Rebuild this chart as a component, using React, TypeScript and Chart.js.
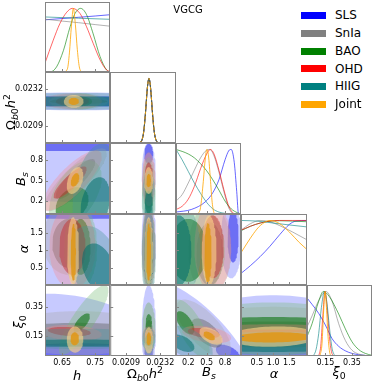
import React, { useEffect, useRef } from 'react';
import { Chart, registerables } from 'chart.js';

Chart.register(...registerables);
Chart.defaults.font.family = 'DejaVu Sans';

// ---------- series ----------
const SERIES = ['SLS', 'SnIa', 'BAO', 'OHD', 'HIIG', 'Joint'];
const LEGEND_COLORS = ['#0000ff', '#808080', '#008000', '#ff0000', '#008080', '#ffa500'];
const LINE_COLORS = ['rgba(0,0,255,0.6)', 'rgba(128,128,128,0.6)', 'rgba(0,128,0,0.6)', 'rgba(255,0,0,0.6)', 'rgba(0,128,128,0.6)', 'rgba(255,165,0,0.8)'];
const OUTER_FILL = ['rgba(70,80,255,0.3)', 'rgba(170,170,170,0.35)', 'rgba(120,190,120,0.35)', 'rgba(255,130,130,0.3)', 'rgba(70,150,150,0.35)', 'rgba(255,215,140,0.6)'];
const INNER_FILL = ['rgba(0,0,230,0.45)', 'rgba(100,100,100,0.45)', 'rgba(0,110,0,0.55)', 'rgba(200,40,40,0.45)', 'rgba(0,110,110,0.55)', 'rgba(225,150,20,0.85)'];

// ---------- parameters (h, Ωb0h², Bs, α, ξ0) ----------
const PARAM_MIN = [0.598, 0.01984, 0.0, 0.01, 0.012];
const PARAM_MAX = [0.795, 0.02426, 1.06, 2.04, 0.5];
const TICK_VALUES = [[0.65, 0.75], [0.0209, 0.0232], [0.2, 0.5, 0.8], [0.5, 1.0, 1.5], [0.15, 0.35]];
const X_TICK_LABELS = [['0.65', '0.75'], ['0.0209', '0.0232'], ['0.2', '0.5', '0.8'], ['0.5', '1.0', '1.5'], ['0.15', '0.35']];
const Y_TICK_LABELS = [[], ['0.0209', '0.0232'], ['0.2', '0.5', '0.8'], ['0.5', '1', '1.5'], ['0.15', '0.35']];

// ---------- 1D posteriors [x, density] per series: SLS, SnIa, BAO, OHD, HIIG, Joint ----------
const POST_H = [
  [[0.598, 0.82], [0.65, 0.84], [0.70, 0.86], [0.75, 0.88], [0.795, 0.9]],
  [[0.598, 0.83], [0.65, 0.8], [0.70, 0.775], [0.75, 0.745], [0.795, 0.72]],
  [[0.598, 0], [0.613, 0], [0.633, 0.08], [0.654, 0.34], [0.674, 0.71], [0.689, 0.92], [0.706, 1.0], [0.724, 0.9], [0.744, 0.6], [0.765, 0.24], [0.785, 0.03], [0.795, 0]],
  [[0.598, 0.14], [0.623, 0.5], [0.643, 0.76], [0.664, 0.94], [0.681, 1.0], [0.704, 0.92], [0.724, 0.71], [0.744, 0.45], [0.765, 0.19], [0.785, 0.03], [0.795, 0.01]],
  [[0.598, 0.865], [0.70, 0.845], [0.795, 0.828]],
  [[0.655, 0], [0.666, 0.05], [0.672, 0.3], [0.678, 0.72], [0.684, 1.0], [0.69, 0.75], [0.696, 0.35], [0.702, 0.08], [0.708, 0.01], [0.714, 0]],
];
const POST_OMB_ALL = [[0.0198, 0], [0.0218, 0], [0.0219, 0.015], [0.022, 0.06], [0.0221, 0.18], [0.0222, 0.42], [0.02235, 0.87], [0.02245, 1.0], [0.02255, 0.87], [0.0227, 0.42], [0.0228, 0.18], [0.0229, 0.06], [0.023, 0.015], [0.0231, 0], [0.0243, 0]];
const POST_OMB = [POST_OMB_ALL, POST_OMB_ALL, POST_OMB_ALL, POST_OMB_ALL, POST_OMB_ALL, POST_OMB_ALL];
const POST_BS = [
  [[0, 0.03], [0.25, 0.07], [0.48, 0.19], [0.6, 0.33], [0.7, 0.53], [0.8, 0.84], [0.86, 0.98], [0.9, 1.0], [0.95, 0.8], [0.99, 0.35], [1.02, 0], [1.06, 0]],
  [[0, 0.2], [0.1, 0.3], [0.2, 0.48], [0.3, 0.68], [0.4, 0.87], [0.5, 0.99], [0.55, 1.0], [0.62, 0.9], [0.7, 0.65], [0.78, 0.35], [0.85, 0.12], [0.9, 0.03], [0.95, 0]],
  [[0, 1.0], [0.1, 0.97], [0.2, 0.93], [0.3, 0.87], [0.4, 0.78], [0.5, 0.67], [0.6, 0.53], [0.7, 0.37], [0.8, 0.2], [0.9, 0.08], [1.0, 0.02], [1.06, 0]],
  [[0, 0.07], [0.1, 0.12], [0.2, 0.23], [0.3, 0.43], [0.4, 0.7], [0.5, 0.93], [0.56, 1.0], [0.62, 0.93], [0.7, 0.68], [0.78, 0.38], [0.85, 0.15], [0.9, 0.05], [0.95, 0]],
  [[0, 1.0], [0.1, 0.84], [0.2, 0.66], [0.3, 0.48], [0.4, 0.32], [0.5, 0.18], [0.6, 0.08], [0.7, 0.03], [0.8, 0.01], [0.9, 0]],
  [[0.36, 0], [0.4, 0.1], [0.44, 0.45], [0.48, 0.88], [0.505, 1.0], [0.53, 0.9], [0.56, 0.55], [0.59, 0.18], [0.62, 0.02], [0.65, 0]],
];
const POST_AL = [
  [[0.01, 0.18], [0.3, 0.3], [0.6, 0.44], [0.9, 0.6], [1.2, 0.78], [1.5, 0.94], [1.7, 0.99], [2.04, 1.0]],
  [[0.01, 0.85], [0.3, 0.95], [0.6, 1.0], [0.9, 0.98], [1.2, 0.92], [1.6, 0.82], [2.04, 0.7]],
  [[0.01, 0.84], [0.3, 0.91], [0.6, 0.96], [0.9, 0.99], [1.2, 0.995], [1.6, 0.99], [2.04, 0.98]],
  [[0.01, 0.85], [0.3, 0.91], [0.6, 0.96], [0.9, 0.99], [1.2, 1.0], [1.6, 1.0], [2.04, 1.0]],
  [[0.01, 1.0], [0.5, 0.99], [1.0, 0.96], [1.5, 0.93], [2.04, 0.9]],
  [[0.01, 0.5], [0.2, 0.65], [0.4, 0.8], [0.6, 0.92], [0.9, 1.0], [1.2, 0.95], [1.5, 0.82], [1.8, 0.66], [2.04, 0.55]],
];
const POST_XI = [
  [[0.012, 0.9], [0.05, 0.8], [0.1, 0.66], [0.15, 0.48], [0.2, 0.27], [0.25, 0.15], [0.3, 0.08], [0.35, 0.04], [0.4, 0.02], [0.5, 0]],
  [[0.012, 0.45], [0.05, 0.62], [0.1, 0.86], [0.155, 1.0], [0.2, 0.85], [0.25, 0.5], [0.3, 0.24], [0.35, 0.09], [0.4, 0.03], [0.45, 0.01]],
  [[0.012, 0.3], [0.05, 0.5], [0.1, 0.85], [0.135, 1.0], [0.18, 0.92], [0.25, 0.65], [0.3, 0.42], [0.35, 0.22], [0.4, 0.1], [0.45, 0.04], [0.5, 0.01]],
  [[0.1, 0], [0.115, 0.15], [0.13, 0.6], [0.148, 1.0], [0.165, 0.7], [0.18, 0.3], [0.195, 0.07], [0.21, 0]],
  [[0.06, 0], [0.08, 0.1], [0.1, 0.35], [0.12, 0.75], [0.143, 1.0], [0.16, 0.85], [0.18, 0.45], [0.2, 0.12], [0.22, 0]],
  [[0.11, 0], [0.125, 0.2], [0.137, 0.7], [0.147, 1.0], [0.158, 0.75], [0.17, 0.3], [0.182, 0.06], [0.192, 0]],
];
const POSTS = [POST_H, POST_OMB, POST_BS, POST_AL, POST_XI];

// ---------- 2D contours: [series, level(0 outer / 1 inner), cx, cy, rx, ry, rho] ----------
const CT_OMB_H = [
  [0, 0, 0.70, 0.02243, 0.5, 0.00055, 0], [0, 1, 0.70, 0.02243, 0.5, 0.00032, 0],
  [1, 0, 0.70, 0.02243, 0.09, 0.0005, 0], [1, 1, 0.70, 0.02243, 0.087, 0.00017, 0],
  [2, 0, 0.706, 0.02243, 0.06, 0.0005, 0], [2, 1, 0.706, 0.02243, 0.035, 0.0003, 0],
  [3, 0, 0.681, 0.02243, 0.09, 0.0005, 0], [3, 1, 0.681, 0.02243, 0.05, 0.0003, 0],
  [4, 0, 0.70, 0.02243, 0.5, 0.00052, 0], [4, 1, 0.70, 0.02243, 0.5, 0.0003, 0],
  [5, 0, 0.685, 0.02243, 0.03, 0.0004, 0], [5, 1, 0.685, 0.02243, 0.016, 0.00022, 0],
];
const CT_BS_H = [
  [0, 0, 0.70, 0.78, 0.6, 0.6, 0], [0, 1, 0.70, 1.04, 0.6, 0.1, 0],
  [1, 0, 0.69, 0.51, 0.095, 0.47, 0.85], [1, 1, 0.69, 0.52, 0.06, 0.3, 0.85],
  [2, 0, 0.69, 0.3, 0.08, 0.5, 0.5], [2, 1, 0.68, 0.15, 0.05, 0.25, 0.3],
  [3, 0, 0.68, 0.5, 0.09, 0.45, 0.8], [3, 1, 0.674, 0.47, 0.05, 0.24, 0.85],
  [4, 0, 0.75, 0.3, 0.07, 0.75, 0.3], [4, 1, 0.75, 0.15, 0.045, 0.4, 0.3],
  [5, 0, 0.689, 0.5, 0.025, 0.2, 0.4], [5, 1, 0.689, 0.51, 0.013, 0.1, 0.4],
];
const CT_BS_OMB = [
  [0, 0, 0.02243, 0.62, 0.00047, 0.45, 0], [0, 1, 0.02243, 0.9, 0.0003, 0.15, 0],
  [1, 0, 0.02243, 0.5, 0.00045, 0.42, 0], [1, 1, 0.02243, 0.52, 0.00028, 0.25, 0],
  [2, 0, 0.02243, 0.35, 0.00045, 0.5, 0], [2, 1, 0.02243, 0.3, 0.00028, 0.3, 0],
  [3, 0, 0.02243, 0.52, 0.00045, 0.4, 0], [3, 1, 0.02243, 0.55, 0.00028, 0.22, 0],
  [4, 0, 0.02243, 0.2, 0.00046, 0.45, 0], [4, 1, 0.02243, 0.1, 0.00028, 0.25, 0],
  [5, 0, 0.02243, 0.5, 0.0003, 0.2, 0], [5, 1, 0.02243, 0.5, 0.00016, 0.1, 0],
];
const CT_AL_H = [
  [0, 0, 0.70, 1.3, 0.6, 1.3, 0], [0, 1, 0.70, 2.15, 0.6, 0.25, 0],
  [1, 0, 0.67, 1.3, 0.08, 1.0, 0], [1, 1, 0.67, 1.2, 0.05, 0.7, 0],
  [2, 0, 0.706, 1.1, 0.05, 1.2, 0], [2, 1, 0.706, 1.1, 0.03, 0.8, 0],
  [3, 0, 0.681, 1.1, 0.07, 1.2, 0], [3, 1, 0.681, 1.1, 0.04, 0.8, 0],
  [4, 0, 0.75, 0.6, 0.08, 1.1, -0.3], [4, 1, 0.76, 0.5, 0.05, 0.7, -0.3],
  [5, 0, 0.683, 0.98, 0.018, 0.97, 0], [5, 1, 0.684, 0.95, 0.008, 0.82, 0],
];
const CT_AL_OMB = [
  [0, 0, 0.02243, 1.3, 0.00048, 1.2, 0], [0, 1, 0.02243, 1.5, 0.0003, 0.7, 0],
  [1, 0, 0.02243, 0.9, 0.00045, 1.2, 0], [1, 1, 0.02243, 0.9, 0.00028, 0.8, 0],
  [2, 0, 0.02243, 1.1, 0.00045, 1.2, 0], [2, 1, 0.02243, 1.1, 0.00028, 0.8, 0],
  [3, 0, 0.02243, 1.1, 0.00045, 1.2, 0], [3, 1, 0.02243, 1.1, 0.00028, 0.8, 0],
  [4, 0, 0.02243, 0.9, 0.00047, 1.3, 0], [4, 1, 0.02243, 0.9, 0.0003, 0.9, 0],
  [5, 0, 0.02243, 0.98, 0.0003, 0.97, 0], [5, 1, 0.02243, 0.95, 0.00016, 0.82, 0],
];
const CT_AL_BS = [
  [0, 0, 0.9, 1.3, 0.17, 1.1, 0], [0, 1, 0.93, 1.4, 0.09, 0.75, 0],
  [1, 0, 0.55, 1.0, 0.35, 1.3, 0], [1, 1, 0.55, 0.9, 0.22, 0.9, 0],
  [2, 0, 0.3, 1.0, 0.5, 1.3, 0], [2, 1, 0.2, 1.0, 0.3, 0.9, 0],
  [3, 0, 0.6, 1.1, 0.3, 1.3, 0], [3, 1, 0.6, 1.1, 0.18, 0.9, 0],
  [4, 0, 0.1, 1.0, 0.3, 1.3, 0], [4, 1, 0.05, 1.0, 0.2, 1.0, 0],
  [5, 0, 0.54, 1.0, 0.12, 1.0, 0], [5, 1, 0.52, 0.93, 0.06, 0.85, 0],
];
const CT_XI_H = [
  [0, 0, 0.70, 0.04, 0.3, 0.4, -0.3], [0, 1, 0.70, 0.0, 0.3, 0.1, 0],
  [1, 0, 0.70, 0.17, 0.25, 0.15, 0], [1, 1, 0.70, 0.16, 0.25, 0.08, 0],
  [2, 0, 0.715, 0.26, 0.075, 0.24, 0.85], [2, 1, 0.709, 0.24, 0.025, 0.065, 0.7],
  [3, 0, 0.68, 0.17, 0.09, 0.055, -0.2], [3, 1, 0.672, 0.18, 0.065, 0.032, -0.3],
  [4, 0, 0.70, 0.13, 0.3, 0.07, 0], [4, 1, 0.70, 0.1, 0.3, 0.025, 0],
  [5, 0, 0.689, 0.125, 0.025, 0.09, 0], [5, 1, 0.688, 0.13, 0.013, 0.045, 0],
];
const CT_XI_OMB = [
  [0, 0, 0.02243, 0.2, 0.00047, 0.3, 0], [0, 1, 0.02243, 0.08, 0.0003, 0.1, 0],
  [1, 0, 0.02243, 0.18, 0.00045, 0.2, 0], [1, 1, 0.02243, 0.16, 0.00028, 0.1, 0],
  [2, 0, 0.02243, 0.2, 0.00045, 0.18, 0], [2, 1, 0.02243, 0.24, 0.00022, 0.06, 0],
  [3, 0, 0.02243, 0.155, 0.00042, 0.06, 0], [3, 1, 0.02243, 0.16, 0.00026, 0.035, 0],
  [4, 0, 0.02243, 0.13, 0.00045, 0.08, 0], [4, 1, 0.02243, 0.12, 0.00028, 0.04, 0],
  [5, 0, 0.02243, 0.12, 0.0003, 0.09, 0], [5, 1, 0.02243, 0.13, 0.00016, 0.045, 0],
];
const CT_XI_BS = [
  [0, 0, 0.2, 0.0, 1.2, 0.55, -0.6], [0, 1, 0.85, 0.03, 0.2, 0.06, -0.5],
  [1, 0, 0.45, 0.2, 0.45, 0.2, -0.7], [1, 1, 0.5, 0.17, 0.25, 0.1, -0.6],
  [2, 0, 0.25, 0.2, 0.3, 0.2, -0.7], [2, 1, 0.15, 0.24, 0.15, 0.08, -0.6],
  [3, 0, 0.5, 0.16, 0.4, 0.06, -0.4], [3, 1, 0.45, 0.17, 0.26, 0.035, -0.4],
  [4, 0, 0.2, 0.1, 0.4, 0.12, -0.5], [4, 1, 0.1, 0.1, 0.2, 0.06, -0.5],
  [5, 0, 0.57, 0.15, 0.19, 0.06, -0.5], [5, 1, 0.54, 0.15, 0.095, 0.03, -0.5],
];
const CT_XI_AL = [
  [0, 0, 1.0, 0.15, 3, 0.28, 0], [0, 1, 1.0, 0.05, 3, 0.1, 0],
  [1, 0, 1.0, 0.18, 3, 0.17, 0], [1, 1, 1.0, 0.16, 3, 0.09, 0],
  [2, 0, 1.0, 0.2, 3, 0.18, 0], [2, 1, 1.0, 0.2, 3, 0.08, 0],
  [3, 0, 1.0, 0.16, 3, 0.07, 0], [3, 1, 1.0, 0.155, 3, 0.04, 0],
  [4, 0, 1.0, 0.1, 3, 0.08, 0], [4, 1, 1.0, 0.08, 3, 0.04, 0],
  [5, 0, 1.0, 0.145, 1.4, 0.07, 0.1], [5, 1, 1.0, 0.14, 1.2, 0.035, 0.1],
];
const CONTOURS: Record<string, number[][]> = {
  '1-0': CT_OMB_H,
  '2-0': CT_BS_H, '2-1': CT_BS_OMB,
  '3-0': CT_AL_H, '3-1': CT_AL_OMB, '3-2': CT_AL_BS,
  '4-0': CT_XI_H, '4-1': CT_XI_OMB, '4-2': CT_XI_BS, '4-3': CT_XI_AL,
};

// ---------- layout ----------
const COL_X = [45, 110, 176, 241, 307];
const COL_W = [65, 66, 65, 66, 65];
const ROW_Y = [2, 72, 143, 214, 285];
const ROW_H = [70, 71, 71, 71, 71];
const LEGEND_Y = [15, 33, 51, 68.5, 86, 104];

function ellipsePoints(cx: number, cy: number, rx: number, ry: number, rho: number) {
  const k = Math.sqrt(1 - rho * rho);
  const pts: { x: number; y: number }[] = [];
  for (let i = 0; i <= 90; i++) {
    const t = (i / 90) * Math.PI * 2;
    pts.push({ x: cx + rx * Math.cos(t), y: cy + ry * (rho * Math.cos(t) + k * Math.sin(t)) });
  }
  return pts;
}

const framePlugin = {
  id: 'frame',
  afterDraw(chart: any) {
    const { ctx, chartArea: a, scales } = chart;
    const o = chart.options.plugins.frame;
    ctx.save();
    ctx.strokeStyle = '#858585';
    ctx.lineWidth = 1;
    ctx.beginPath();
    for (const v of TICK_VALUES[o.c]) {
      const px = Math.round(scales.x.getPixelForValue(v)) + 0.5;
      ctx.moveTo(px, a.bottom); ctx.lineTo(px, a.bottom - 3);
    }
    if (!o.diag) {
      for (const v of TICK_VALUES[o.r]) {
        const py = Math.round(scales.y.getPixelForValue(v)) + 0.5;
        ctx.moveTo(a.left, py); ctx.lineTo(a.left + 3, py);
      }
    }
    ctx.stroke();
    ctx.strokeRect(a.left + 0.5, a.top + 0.5, a.width - 1, a.height - 1);
    ctx.restore();
  },
};

function Panel({ r, c }: { r: number; c: number }) {
  const ref = useRef<HTMLCanvasElement>(null);
  const diag = r === c;
  const padL = c === 0 ? COL_X[0] : 0;
  const padB = r === 4 ? 14 : 8;
  const left = COL_X[c] - padL;
  const top = ROW_Y[r] - 8;
  const width = COL_W[c] + padL + 8;
  const height = ROW_H[r] + 8 + padB;

  useEffect(() => {
    let datasets: any[] = [];
    if (diag) {
      const posts = POSTS[c];
      datasets = posts.map((p, s) => ({
        data: p.map(([x, y]) => ({ x, y })),
        borderColor: LINE_COLORS[s],
        borderWidth: 1,
        borderDash: c === 1 && s === 5 ? [3, 2] : [],
        pointRadius: 0,
        fill: false,
        cubicInterpolationMode: 'monotone',
        order: posts.length - s,
      }));
    } else {
      const list = CONTOURS[`${r}-${c}`];
      datasets = list.map(([s, lvl, cx, cy, rx, ry, rho], i) => ({
        data: ellipsePoints(cx, cy, rx, ry, rho),
        backgroundColor: lvl === 0 ? OUTER_FILL[s] : INNER_FILL[s],
        borderColor: 'rgba(0,0,0,0)',
        borderWidth: 0,
        pointRadius: 0,
        tension: 0,
        fill: 'shape',
        order: list.length - i,
      }));
    }
    const chart = new Chart(ref.current as HTMLCanvasElement, {
      type: 'line',
      data: { datasets },
      plugins: [framePlugin as any],
      options: {
        animation: false,
        responsive: false,
        devicePixelRatio: 1,
        events: [],
        layout: { padding: { top: 8, right: 8, left: 0, bottom: r === 4 ? 0 : 8 } },
        plugins: {
          legend: { display: false },
          tooltip: { enabled: false },
          frame: { r, c, diag },
        } as any,
        scales: {
          x: {
            type: 'linear',
            min: PARAM_MIN[c],
            max: PARAM_MAX[c],
            afterBuildTicks: (s: any) => { s.ticks = TICK_VALUES[c].map((value) => ({ value })); },
            afterFit: (s: any) => { s.height = r === 4 ? padB : 0; },
            ticks: {
              display: r === 4,
              autoSkip: false,
              maxRotation: 0,
              padding: 2,
              color: '#000',
              font: { size: 8, family: 'DejaVu Sans' },
              callback: (_v: any, i: number) => X_TICK_LABELS[c][i],
            },
            grid: { display: false, drawTicks: false },
            border: { display: false },
          },
          y: {
            type: 'linear',
            min: diag ? 0 : PARAM_MIN[r],
            max: diag ? 1.1 : PARAM_MAX[r],
            afterBuildTicks: (s: any) => { s.ticks = diag ? [] : TICK_VALUES[r].map((value) => ({ value })); },
            afterFit: (s: any) => { s.width = padL; },
            ticks: {
              display: c === 0 && !diag,
              autoSkip: false,
              padding: 2,
              color: '#000',
              font: { size: 8, family: 'DejaVu Sans' },
              callback: (_v: any, i: number) => Y_TICK_LABELS[r][i],
            },
            grid: { display: false, drawTicks: false },
            border: { display: false },
          },
        },
      } as any,
    });
    return () => chart.destroy();
  }, []);

  return (
    <canvas
      ref={ref}
      width={width}
      height={height}
      style={{ position: 'absolute', left, top, width, height }}
    />
  );
}

const sub = { fontSize: '0.72em', verticalAlign: '-0.3em', lineHeight: 1 } as const;
const sup = { fontSize: '0.72em', verticalAlign: '0.55em', lineHeight: 1 } as const;

function OmegaLabel() {
  return (<span>Ω<span style={sub}><i>b</i>0</span><i>h</i><span style={sup}>2</span></span>);
}
function BsLabel() { return (<span><i>B</i><span style={sub}><i>s</i></span></span>); }
function AlphaLabel() { return (<span><i>α</i></span>); }
function XiLabel() { return (<span><i>ξ</i><span style={sub}>0</span></span>); }
function HLabel() { return (<span><i>h</i></span>); }

function Label({ x, y, rot, children }: { x: number; y: number; rot?: boolean; children: any }) {
  return (
    <div
      style={{
        position: 'absolute', left: x, top: y, whiteSpace: 'nowrap', lineHeight: 1,
        fontFamily: 'DejaVu Sans', fontSize: 13, color: '#000',
        transform: `translate(-50%, -50%)${rot ? ' rotate(-90deg)' : ''}`,
      }}
    >
      {children}
    </div>
  );
}

export default function App() {
  const panels: JSX.Element[] = [];
  for (let r = 0; r < 5; r++) for (let c = 0; c <= r; c++) panels.push(<Panel key={`${r}-${c}`} r={r} c={c} />);
  return (
    <div style={{ position: 'absolute', left: 0, top: 0, width: 374, height: 382, background: '#fff', overflow: 'hidden' }}>
      {panels}
      <div style={{ position: 'absolute', left: 188, top: 10, transform: 'translate(-50%,-50%)', fontFamily: 'DejaVu Sans', fontSize: 10, lineHeight: 1 }}>VGCG</div>
      {SERIES.map((s, i) => (
        <React.Fragment key={s}>
          <div style={{ position: 'absolute', left: 301, top: LEGEND_Y[i] - 3.5, width: 25, height: 7, background: LEGEND_COLORS[i] }} />
          <div style={{ position: 'absolute', left: 335, top: LEGEND_Y[i], transform: 'translateY(-50%)', fontFamily: 'DejaVu Sans', fontSize: 12, lineHeight: 1 }}>{s}</div>
        </React.Fragment>
      ))}
      <Label x={77} y={375}><HLabel /></Label>
      <Label x={145} y={374}><OmegaLabel /></Label>
      <Label x={209} y={373}><BsLabel /></Label>
      <Label x={274} y={373}><AlphaLabel /></Label>
      <Label x={339} y={373}><XiLabel /></Label>
      <Label x={11} y={112} rot><OmegaLabel /></Label>
      <Label x={22} y={179} rot><BsLabel /></Label>
      <Label x={23} y={249} rot><AlphaLabel /></Label>
      <Label x={20} y={322} rot><XiLabel /></Label>
    </div>
  );
}
